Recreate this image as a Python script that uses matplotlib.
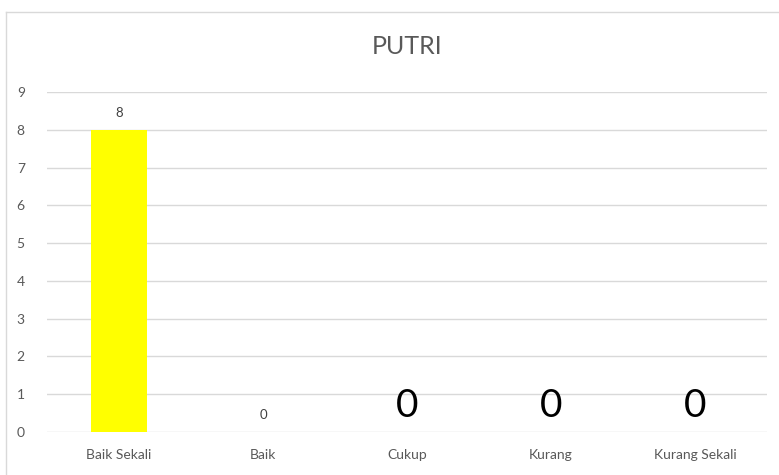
import matplotlib
matplotlib.use("Agg")
import matplotlib.pyplot as plt
from matplotlib.lines import Line2D

categories = ["Baik Sekali", "Baik", "Cukup", "Kurang", "Kurang Sekali"]
values = [8, 0, 0, 0, 0]
label_sizes = [9.5, 9.5, 28, 28, 28]
yticks = list(range(0, 10))
title = "PUTRI"

plt.rcParams['font.family'] = ['Lato', 'DejaVu Sans']

fig = plt.figure(figsize=(7.79, 4.75), dpi=100)
ax = fig.add_axes([47/779, 1-432/475, (767-47)/779, (432-92)/475])

x = list(range(len(categories)))
ax.bar(x, values, width=0.39, color="#FFFF00", zorder=3)
ax.set_xlim(-0.5, len(categories)-0.5)
ax.set_ylim(0, 9)
ax.set_yticks(yticks)
ax.set_xticks(x)
ax.set_xticklabels(categories)
ax.tick_params(axis='both', length=0, colors="#595959", labelsize=10)
ax.tick_params(axis='y', pad=16)
ax.tick_params(axis='x', pad=12)
ax.grid(axis='y', color="#d9d9d9", linewidth=1, zorder=0)
for s in ax.spines.values():
    s.set_visible(False)

for xi, v, fs in zip(x, values, label_sizes):
    ax.annotate(str(v), (xi, v), xytext=(0, 8 if fs < 12 else 6), textcoords='offset points',
                ha='center', va='bottom', fontsize=fs,
                color="#404040" if fs < 12 else "#000000")

fig.text(407/779, 1-47/475, title, ha='center', va='center', fontsize=18, color="#595959")

# chart border (top and left visible)
fig.add_artist(Line2D([6/779, 1], [1-12/475, 1-12/475], color="#d9d9d9", linewidth=1, transform=fig.transFigure))
fig.add_artist(Line2D([6/779, 6/779], [0, 1-12/475], color="#d9d9d9", linewidth=1, transform=fig.transFigure))

fig.savefig("out.png", dpi=100)
